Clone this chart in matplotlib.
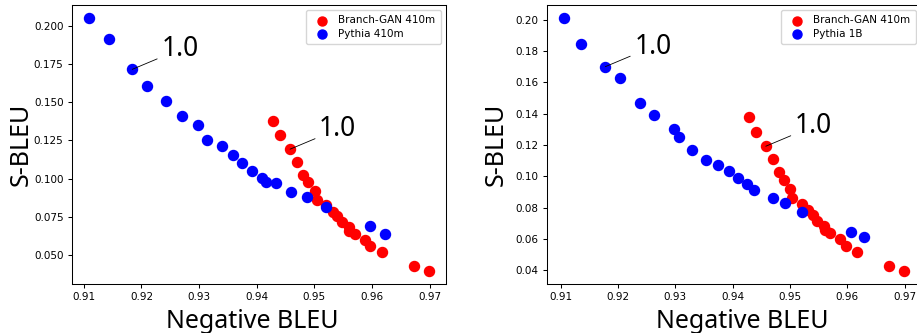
import numpy as np
import matplotlib
matplotlib.use('Agg')
import matplotlib.pyplot as plt

# -- Data ---------------------------------------------------------------------
GAN_X = [0.9428, 0.9440, 0.9458, 0.9470, 0.9481, 0.9489, 0.9501, 0.9504,
         0.9521, 0.9532, 0.9540, 0.9548, 0.9560, 0.9561, 0.9570, 0.9588,
         0.9597, 0.9617, 0.9673, 0.9699]
GAN_Y = [0.1378, 0.1282, 0.1192, 0.1111, 0.1026, 0.0976, 0.0919, 0.0860,
         0.0825, 0.0784, 0.0753, 0.0716, 0.0681, 0.0657, 0.0635, 0.0598,
         0.0557, 0.0517, 0.0428, 0.0393]

PY410_X = [0.9109, 0.9143, 0.9184, 0.9209, 0.9242, 0.9271, 0.9299, 0.9314,
           0.9340, 0.9359, 0.9375, 0.9391, 0.9410, 0.9416, 0.9434, 0.9459,
           0.9487, 0.9520, 0.9596, 0.9622]
PY410_Y = [0.2052, 0.1915, 0.1714, 0.1605, 0.1509, 0.1410, 0.1347, 0.1255,
           0.1210, 0.1151, 0.1103, 0.1050, 0.1004, 0.0980, 0.0972, 0.0910,
           0.0882, 0.0812, 0.0692, 0.0640]

PY1B_X = [0.9106, 0.9135, 0.9178, 0.9203, 0.9239, 0.9263, 0.9297, 0.9307,
          0.9330, 0.9354, 0.9374, 0.9394, 0.9410, 0.9426, 0.9437, 0.9470,
          0.9491, 0.9521, 0.9606, 0.9630]
PY1B_Y = [0.2013, 0.1847, 0.1700, 0.1625, 0.1467, 0.1391, 0.1303, 0.1254,
          0.1169, 0.1103, 0.1073, 0.1031, 0.0988, 0.0950, 0.0914, 0.0864,
          0.0830, 0.0771, 0.0643, 0.0615]

ANNOT_IDX = 2          # point labelled "1.0" in each series
ANNOT_TEXT = '1.0'

X_TICKS = [0.91, 0.92, 0.93, 0.94, 0.95, 0.96, 0.97]
Y_TICKS_L = [0.050, 0.075, 0.100, 0.125, 0.150, 0.175, 0.200]
Y_TICKS_R = [0.04, 0.06, 0.08, 0.10, 0.12, 0.14, 0.16, 0.18, 0.20]

BIG_FONT = ['Noto Sans', 'DejaVu Sans']

W, H = 917, 333
fig = plt.figure(figsize=(W / 100, H / 100), dpi=100)


def panel(left_px, pyx, pyy, py_label, yticks, xlab_x):
    ax = fig.add_axes([left_px / W, (H - 284) / H, 374 / W, 279 / H])
    ax.scatter(GAN_X, GAN_Y, s=52, color='red', label='Branch-GAN 410m', zorder=3)
    ax.scatter(pyx, pyy, s=52, color='blue', label=py_label, zorder=3)

    for xs, ys in [(pyx, pyy), (GAN_X, GAN_Y)]:
        ax.annotate(ANNOT_TEXT, xy=(xs[ANNOT_IDX], ys[ANNOT_IDX]),
                    xytext=(29, 13), textcoords='offset pixels',
                    ha='left', va='baseline', fontsize=19, family=BIG_FONT,
                    arrowprops=dict(arrowstyle='-', color='black', lw=0.6,
                                    shrinkA=1, shrinkB=0),
                    zorder=4)

    ax.set_xticks(X_TICKS)
    ax.set_yticks(yticks)
    ax.tick_params(labelsize=7.5, length=2.6, width=0.75)
    for sp in ax.spines.values():
        sp.set_linewidth(0.75)

    ax.set_xlabel('Negative BLEU', fontsize=18, family=BIG_FONT)
    ax.set_ylabel('S-BLEU', fontsize=18, family=BIG_FONT)
    ax.xaxis.set_label_coords(xlab_x, -0.09)
    ax.yaxis.set_label_coords(-0.103, 0.5)

    ax.legend(loc='upper right', fontsize=7.5, markerscale=0.9,
              handletextpad=0.6, borderpad=0.5, labelspacing=0.35)
    return ax


panel(72, PY410_X, PY410_Y, 'Pythia 410m', Y_TICKS_L, 0.483)
panel(547, PY1B_X, PY1B_Y, 'Pythia 1B', Y_TICKS_R, 0.522)

fig.savefig('out.png', dpi=100)
